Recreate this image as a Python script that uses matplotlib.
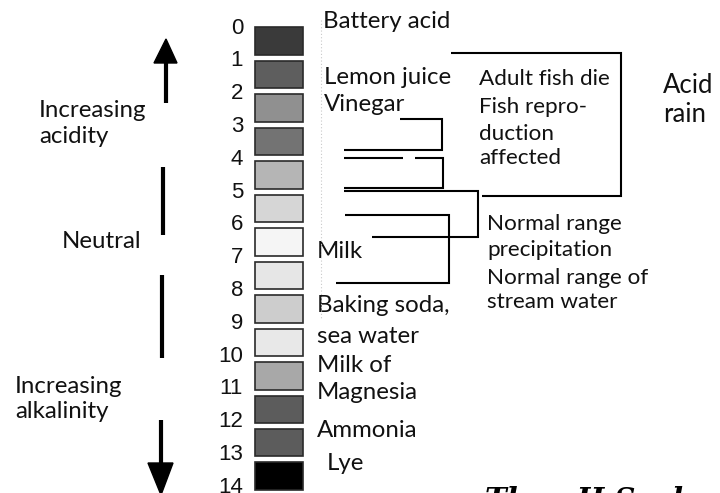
import matplotlib
matplotlib.use("Agg")
import matplotlib.pyplot as plt
from matplotlib.patches import Rectangle, Polygon

# ---------------- data ----------------
ph_values = list(range(14))                      # swatch for each pH step
swatch_grays = ["#3a3a3a", "#5e5e5e", "#909090", "#737373", "#b5b5b5",
                "#d6d6d6", "#f5f5f5", "#e6e6e6", "#cdcdcd", "#e8e8e8",
                "#a8a8a8", "#5c5c5c", "#5c5c5c", "#000000"]
scale_labels = [str(i) for i in range(15)]      # 0 .. 14

substances = ["Battery acid", "Lemon juice", "Vinegar", "Milk", "Baking soda,",
              "sea water", "Milk of", "Magnesia", "Ammonia", "Lye"]

# bracket ranges on the pH axis (top, bottom)
acid_rain_range = (0.78, 5.04)
fish_die_range = (2.75, 3.67)
fish_repro_range = (3.91, 4.81)
precip_range = (4.90, 6.27)
stream_range = (5.61, 7.64)

# ---------------- figure ----------------
W, H = 720, 493
fig = plt.figure(figsize=(W / 100, H / 100), dpi=100)
fig.patch.set_facecolor("white")

# pixel-like layout axes (for text / arrows)
lay = fig.add_axes([0, 0, 1, 1])
lay.set_xlim(0, W)
lay.set_ylim(H, 0)
lay.axis("off")

# pH axes: y measured in pH units
top_px, step_px = 27.0, 33.5
ax = fig.add_axes([0, 0, 1, 1])
ax.set_xlim(0, W)
ax.set_ylim((H - top_px) / step_px, -top_px / step_px)
ax.axis("off")
ax.patch.set_alpha(0)

TXT = "Lato"
NUM = "Liberation Sans"
FS = 17.3
FS_NOTE = 16.2

# faint dotted guide line
ax.plot([321, 321], [-0.2, 8.75], color="#c9c9c9", lw=0.8, ls=(0, (1, 2)))

# swatches
sw_h = 27.5 / step_px
for ph, col in zip(ph_values, swatch_grays):
    ax.add_patch(Rectangle((255, ph), 48, sw_h, facecolor=col,
                           edgecolor="#2a2a2a", lw=1.2))

# scale numbers
for i, lab in enumerate(scale_labels):
    y_px = 28 + 32.8 * i
    lay.text(243, y_px, lab, ha="right", va="center", fontsize=16,
             family=NUM, color="#111111")

# substance labels (x, baseline)
sub_pos = [(323, 28), (324, 84), (324, 111), (317, 258), (317, 312),
           (317, 343), (317, 372), (317, 399), (317, 437), (327, 470)]
for s, (x, y) in zip(substances, sub_pos):
    lay.text(x, y, s, ha="left", va="baseline", fontsize=FS, family=TXT,
             color="#111111")

# bracket annotations
notes = [("Adult fish die", 479, 85), ("Fish repro-", 479, 113),
         ("duction", 479, 140), ("affected", 479, 164),
         ("Normal range", 487, 230), ("precipitation", 487, 256),
         ("Normal range of", 487, 284), ("stream water", 487, 308)]
for s, x, y in notes:
    lay.text(x, y, s, ha="left", va="baseline", fontsize=FS_NOTE, family=TXT,
             color="#111111")

for s, x, y in [("Acid", 663, 93), ("rain", 663, 122)]:
    lay.text(x, y, s, ha="left", va="baseline", fontsize=18.5, family=TXT,
             color="#111111")

# left side labels
side = [("Increasing", 39, 117), ("acidity", 39, 143),
        ("Neutral", 62, 248),
        ("Increasing", 15, 393), ("alkalinity", 15, 418)]
for s, x, y in side:
    lay.text(x, y, s, ha="left", va="baseline", fontsize=FS, family=TXT,
             color="#111111")

# brackets
LW = 1.5
kw = dict(color="black", lw=LW, solid_joinstyle="miter", solid_capstyle="butt")
t, b = acid_rain_range
ax.plot([451, 621, 621, 482], [t, t, b, b], **kw)
t, b = fish_die_range
ax.plot([400, 442, 442, 344], [t, t, b, b], **kw)
t, b = fish_repro_range
ax.plot([344, 403], [t, t], **kw)
ax.plot([415, 443, 443, 344], [t, t, b, b], **kw)
t, b = precip_range
ax.plot([344, 478, 478, 372], [t, t, b, b], **kw)
t, b = stream_range
ax.plot([345, 449, 449, 336], [t, t, b, b], **kw)

# left arrows / lines
alw = 3.0
lay.plot([166, 166], [103, 60], color="black", lw=alw, solid_capstyle="butt")
lay.add_patch(Polygon([(154, 63), (177, 63), (166, 39)], closed=True,
                      color="black"))
lay.plot([163, 163], [167, 235], color="black", lw=alw, solid_capstyle="butt")
lay.plot([162, 162], [275, 358], color="black", lw=alw, solid_capstyle="butt")
lay.plot([161, 161], [420, 466], color="black", lw=alw, solid_capstyle="butt")
lay.add_patch(Polygon([(148, 463), (173, 463), (161, 495)], closed=True,
                      color="black"))

# title (cut by the bottom edge, as in the reference)
lay.text(485, 509, "The pH Scale", ha="left", va="baseline", fontsize=21,
         family="DejaVu Serif", fontweight="bold", fontstyle="italic",
         color="black", clip_on=False)

fig.savefig("out.png", dpi=100)
